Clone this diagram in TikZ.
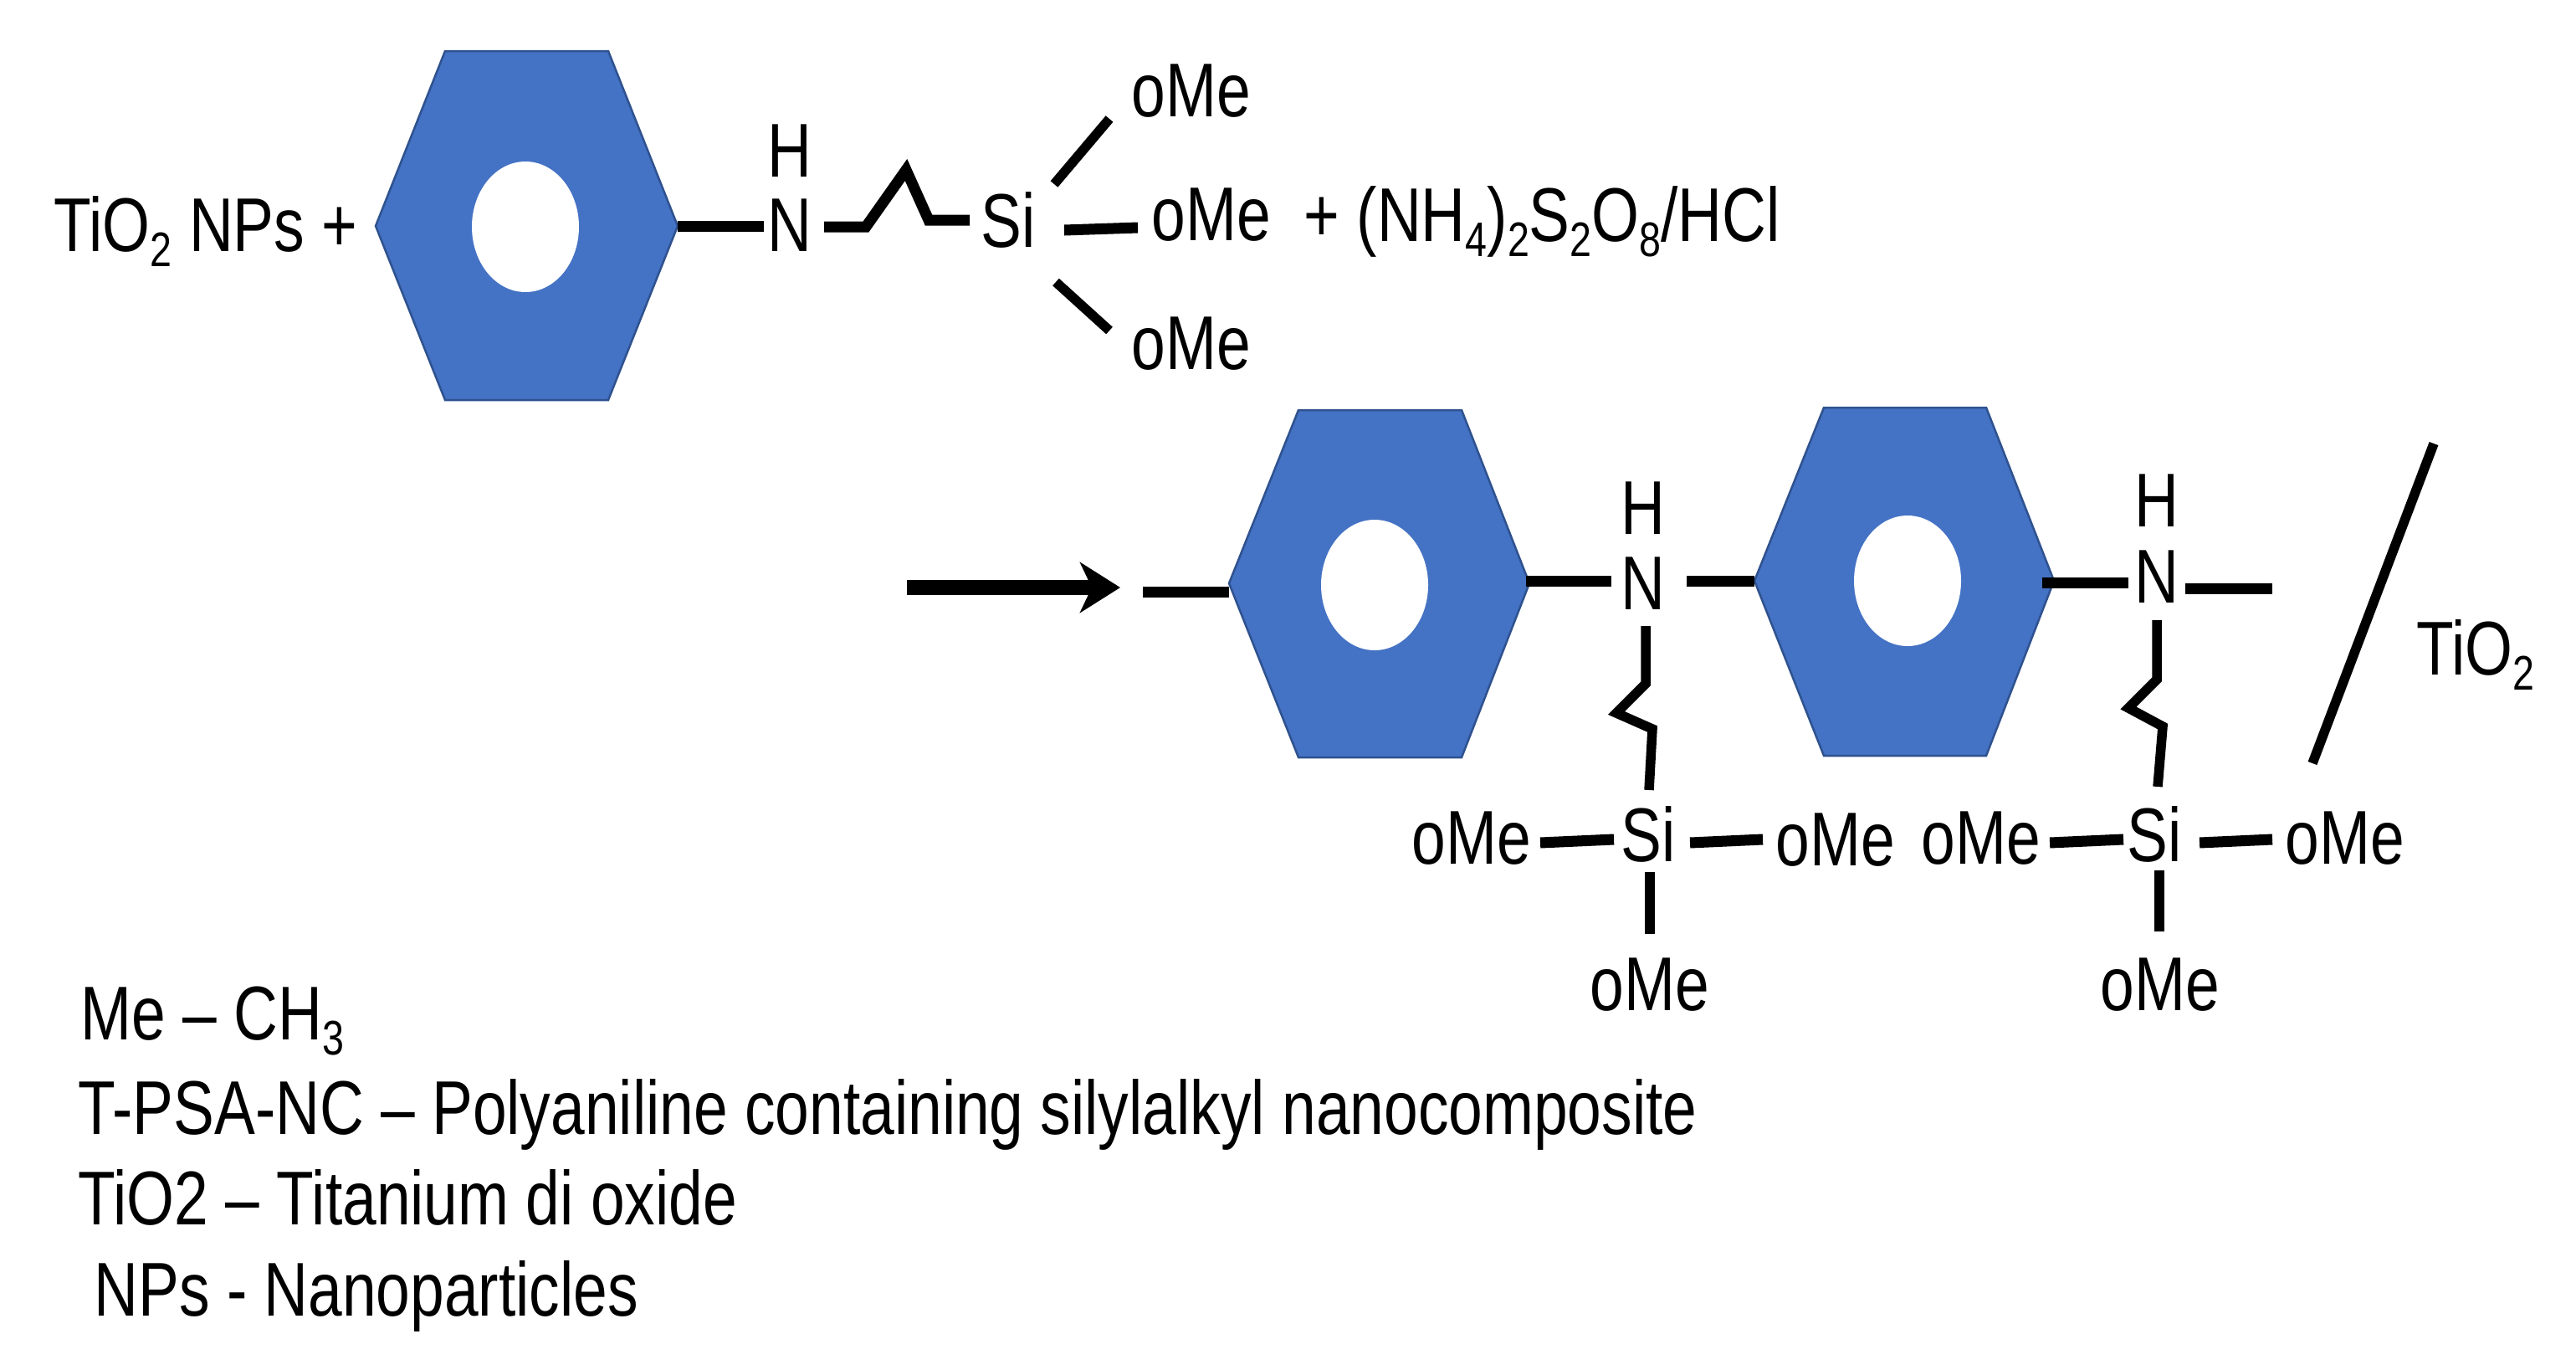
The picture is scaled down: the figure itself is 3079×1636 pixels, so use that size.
\documentclass[tikz,border=0pt]{standalone}
\usepackage{fontspec}
\setmainfont[FakeStretch=0.803]{Liberation Sans}
\usetikzlibrary{arrows.meta}
\newcommand{\dn}[1]{\raisebox{-0.18cm}{\fontsize{16.5}{18}\selectfont #1}}
\tikzset{
  x=0.01cm,y=-0.01cm,
  lab/.style={inner sep=0pt,anchor=base,font=\fontsize{25.9}{30}\selectfont},
  labl/.style={lab,anchor=base west},
  bond/.style={line width=0.13cm,line join=miter,black},
  thin bond/.style={line width=0.115cm,line join=miter,black},
  ring/.style={fill=ringblue,draw=ringedge,line width=0.025cm,line join=miter},
  hole/.style={fill=white,draw=none},
  reaction/.style={line width=0.18cm,black,-{Stealth[length=0.48cm,width=0.6cm,inset=0.14cm]}}
}
\definecolor{ringblue}{HTML}{4472C4}
\definecolor{ringedge}{HTML}{2F528F}
\begin{document}
\begin{tikzpicture}
\useasboundingbox (0,0) rectangle (3079,1636);
\fill[white] (0,0) rectangle (3079,1636);
% rings
\coordinate (r1l) at (449,270); \coordinate (r1r) at (810,270);
\coordinate (r2l) at (1469,697); \coordinate (r2r) at (1828,697);
\coordinate (r3l) at (2097,694); \coordinate (r3r) at (2455,694);
\draw[ring] (r1l) -- (532,61) -- (727,61) -- (r1r) -- (727,478) -- (532,478) -- cycle;
\fill[hole] (628,271) ellipse [x radius=64,y radius=78];
\draw[ring] (r2l) -- (1552,490) -- (1747,490) -- (r2r) -- (1747,905) -- (1552,905) -- cycle;
\fill[hole] (1643,699) ellipse [x radius=64,y radius=78];
\draw[ring] (r3l) -- (2180,487) -- (2374,487) -- (r3r) -- (2374,903) -- (2180,903) -- cycle;
\fill[hole] (2280,694) ellipse [x radius=64,y radius=78];
% top row labels
\node[labl] (tio) at (64,300) {TiO\dn{2} NPs +};
\node[lab] (h1) at (944,211) {H};
\node[lab] (n1) at (944,300) {N};
\node[lab] (s1) at (1205,295) {Si};
\node[lab] (o1) at (1424,139) {oMe};
\node[lab] (o2) at (1448,287) {oMe};
\node[lab] (o3) at (1424,441) {oMe};
\node[labl] (reag) at (1558,288) {+ (NH\dn{4})\dn{2}S\dn{2}O\dn{8}/HCl};
% top row bonds
\draw[bond] (r1r) -- ([shift={(-31,-30)}]n1.base);
\draw[bond] ([shift={(41,-29)}]n1.base) -- (1035,271) -- (1083,203) -- (1110,263) -- ([shift={(-46,-32)}]s1.base);
\draw[thin bond] ([shift={(55,-75)}]s1.base) -- ([shift={(-98,3)}]o1.base);
\draw[bond] ([shift={(67,-20)}]s1.base) -- ([shift={(-88,-15)}]o2.base);
\draw[thin bond] ([shift={(57,42)}]s1.base) -- ([shift={(-98,-46)}]o3.base);
% reaction arrow
\coordinate (arra) at (1084,702); \coordinate (arrb) at (1339,702);
\draw[reaction] (arra) -- (arrb);
% chain labels, unit 2
\node[lab] (h2) at (1964,638) {H};
\node[lab] (n2) at (1964,728) {N};
\node[lab] (s2) at (1970,1029) {Si};
\node[lab] (ol2) at (1759,1032) {oMe};
\node[lab] (or2) at (2194,1034) {oMe};
\node[lab] (ob2) at (1972,1207) {oMe};
\coordinate (free2) at (1366,707);
\coordinate (r2in) at (1469,707);
\draw[bond] (free2) -- (r2in);
\draw[bond] (1824,694) -- ([shift={(-38,-34)}]n2.base);
\draw[bond] ([shift={(52,-34)}]n2.base) -- (r3l);
\draw[thin bond] ([shift={(3,20)}]n2.base) -- (1967,817) -- (1932,852) -- (1975,871) -- ([shift={(1,-85)}]s2.base);
\draw[bond] ([shift={(82,-25)}]ol2.base) -- ([shift={(-41,-26)}]s2.base);
\draw[bond] ([shift={(50,-22)}]s2.base) -- ([shift={(-87,-31)}]or2.base);
\draw[thin bond] ([shift={(2,13)}]s2.base) -- ([shift={(0,-91)}]ob2.base);
% chain labels, unit 3
\node[lab] (h3) at (2578,629) {H};
\node[lab] (n3) at (2578,720) {N};
\node[lab] (s3) at (2575,1029) {Si};
\node[lab] (ol3) at (2368,1032) {oMe};
\node[lab] (or3) at (2803,1032) {oMe};
\node[lab] (ob3) at (2582,1207) {oMe};
\coordinate (free3) at (2716,703);
\draw[bond] (2441,696) -- ([shift={(-34,-24)}]n3.base);
\draw[bond] ([shift={(34,-17)}]n3.base) -- (free3);
\draw[thin bond] ([shift={(0,21)}]n3.base) -- (2578,812) -- (2544,846) -- (2585,868) -- ([shift={(4,-89)}]s3.base);
\draw[bond] ([shift={(82,-25)}]ol3.base) -- ([shift={(-37,-26)}]s3.base);
\draw[bond] ([shift={(54,-22)}]s3.base) -- ([shift={(-87,-29)}]or3.base);
\draw[thin bond] ([shift={(6,11)}]s3.base) -- ([shift={(-1,-94)}]ob3.base);
% slash and support
\coordinate (sla) at (2909,530); \coordinate (slb) at (2764,912);
\draw[thin bond] (sla) -- (slb);
\node[labl] (tio2) at (2888,806) {TiO\dn{2}};
% legend
\node[labl] (leg1) at (96,1242) {Me – CH\dn{3}};
\node[labl] (leg2) at (93,1355) {T-PSA-NC – Polyaniline containing silylalkyl nanocomposite};
\node[labl] (leg3) at (93,1463) {TiO2 – Titanium di oxide};
\node[labl] (leg4) at (112,1572) {NPs - Nanoparticles};
\end{tikzpicture}
\end{document}
